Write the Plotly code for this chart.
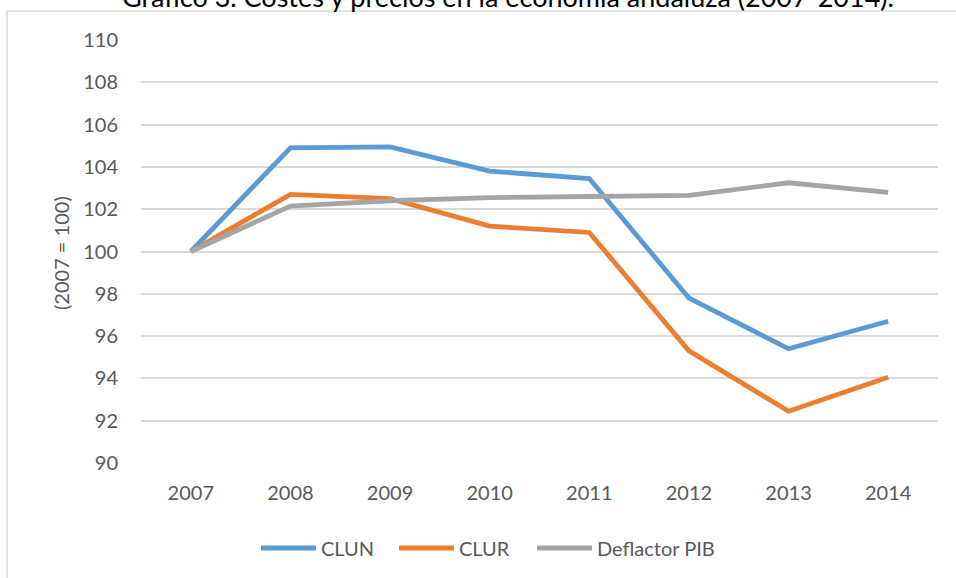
import plotly.graph_objects as go

years = ["2007", "2008", "2009", "2010", "2011", "2012", "2013", "2014"]
clun = [100, 104.9, 104.95, 103.8, 103.45, 97.8, 95.4, 96.7]
clur = [100, 102.7, 102.5, 101.2, 100.9, 95.3, 92.45, 94.05]
deflactor = [100, 102.15, 102.4, 102.55, 102.6, 102.65, 103.25, 102.8]
series_names = ["CLUN", "CLUR", "Deflactor PIB"]
colors = ["#5B9BD5", "#ED7D31", "#A5A5A5"]
y_ticks = [90, 92, 94, 96, 98, 100, 102, 104, 106, 108, 110]

W, H = 956, 578
L, R, T, B = 141, 18, 40, 115
pw, ph = W - L - R, H - T - B

font_family = "Lato"
txt_col = "#595959"

def px_x(p):
    return (p - L) / pw

def px_y(p):
    return (H - B - p) / ph

legend_ids = ["legend", "legend2", "legend3"]
legend_px = [256, 394, 532]

fig = go.Figure()
for name, vals, col, lid in zip(series_names, [clun, clur, deflactor], colors, legend_ids):
    fig.add_trace(go.Scatter(x=years, y=vals, name=name, mode="lines",
                             line=dict(color=col, width=4.8), legend=lid))

legend_layout = {}
for lid, lx in zip(legend_ids, legend_px):
    legend_layout[lid] = dict(orientation="h", x=px_x(lx), xanchor="left",
                              y=px_y(548), yanchor="middle",
                              font=dict(size=20, color=txt_col), itemwidth=55,
                              bgcolor="rgba(0,0,0,0)")

fig.update_layout(
    width=W, height=H,
    margin=dict(l=L, r=R, t=T, b=B, autoexpand=False),
    paper_bgcolor="white", plot_bgcolor="white",
    font=dict(family=font_family, size=20, color=txt_col),
    showlegend=True,
    xaxis=dict(type="category", range=[-0.5, 7.5], showgrid=False,
               showline=False, zeroline=False,
               ticks="", tickfont=dict(size=20, color=txt_col),
               ticklabelstandoff=16),
    yaxis=dict(range=[90, 110], tickvals=y_ticks, showgrid=True,
               gridcolor="#D9D9D9", gridwidth=1.5, zeroline=False, showline=False,
               ticks="", tickfont=dict(size=20, color=txt_col),
               ticklabelstandoff=22),
    annotations=[
        dict(text="(2007 = 100)", textangle=-90, xref="paper", yref="paper",
             x=px_x(61), y=px_y(253), xanchor="center", yanchor="middle",
             showarrow=False, font=dict(size=20, color=txt_col)),
        dict(text="Gráfico 3. Costes y precios en la economía andaluza (2007-2014).",
             xref="paper", yref="paper", x=px_x(508), y=px_y(15),
             xanchor="center", yanchor="bottom", showarrow=False,
             font=dict(size=27, color="#000000")),
    ],
    shapes=[
        dict(type="rect", xref="paper", yref="paper",
             x0=px_x(7), x1=px_x(970), y0=px_y(600), y1=px_y(11),
             line=dict(color="#D9D9D9", width=1.5), fillcolor="rgba(0,0,0,0)",
             layer="below"),
    ],
    **legend_layout,
)

fig.write_html("out.html", config={"displayModeBar": False},
               post_script="document.body.style.margin='0';document.body.style.padding='0';")
